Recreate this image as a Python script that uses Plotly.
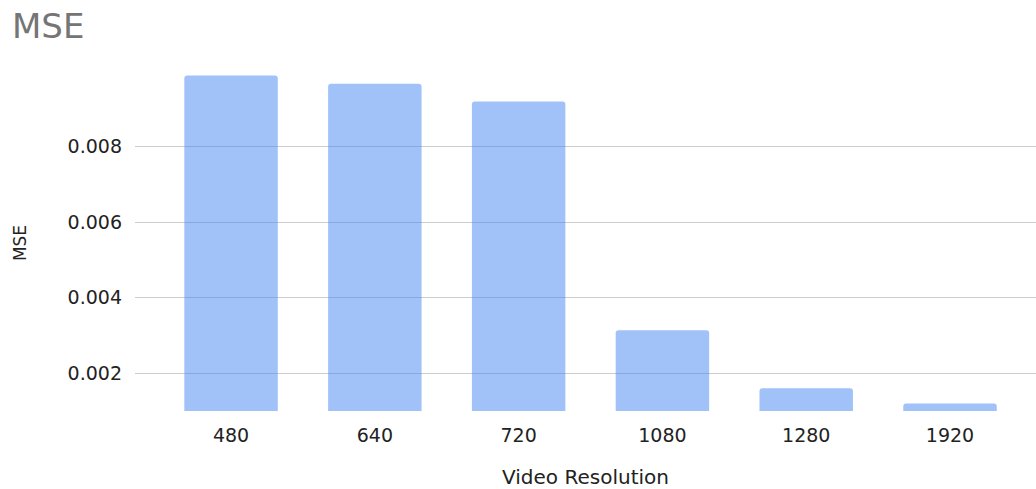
import plotly.graph_objects as go

categories = ["480", "640", "720", "1080", "1280", "1920"]
mse_values = [0.00989, 0.00967, 0.00920, 0.00314, 0.00160, 0.00120]
tick_vals = [0.002, 0.004, 0.006, 0.008]
tick_text = ["0.002", "0.004", "0.006", "0.008"]

fig = go.Figure(go.Bar(
    x=list(range(len(categories))),
    y=mse_values,
    width=0.65,
    marker=dict(color="#4285f4", opacity=0.5, line=dict(width=0), cornerradius=3),
    hoverinfo="skip",
))

font_family = "DejaVu Sans, Liberation Sans, Arial, sans-serif"
fig.update_layout(
    width=1036, height=489,
    margin=dict(l=135, r=0, t=75, b=78),
    paper_bgcolor="white", plot_bgcolor="white",
    showlegend=False,
    font=dict(family=font_family, color="#222222", size=19),
    title=dict(text="MSE", x=12 / 1036, xref="container", xanchor="left",
               y=1 - 26 / 489, yref="container", yanchor="middle",
               font=dict(size=34, color="#757575", family=font_family)),
    xaxis=dict(
        tickmode="array", tickvals=list(range(len(categories))), ticktext=categories,
        range=[-0.668, 5.598], showgrid=False, zeroline=False, showline=False,
        ticks="", ticklen=0, tickfont=dict(size=19, color="#222222"), ticklabelstandoff=11,
        title=dict(text="Video Resolution", font=dict(size=20, color="#222222"), standoff=24),
    ),
    yaxis=dict(
        range=[0.001, 0.0099], tickmode="array", tickvals=tick_vals, ticktext=tick_text,
        showgrid=True, gridcolor="#cccccc", gridwidth=1, zeroline=False, showline=False,
        ticks="", tickfont=dict(size=19, color="#222222"), ticklabelstandoff=12,
        title=dict(text="MSE", font=dict(size=17, color="#222222"), standoff=36),
    ),
)
fig.write_html("out.html")
